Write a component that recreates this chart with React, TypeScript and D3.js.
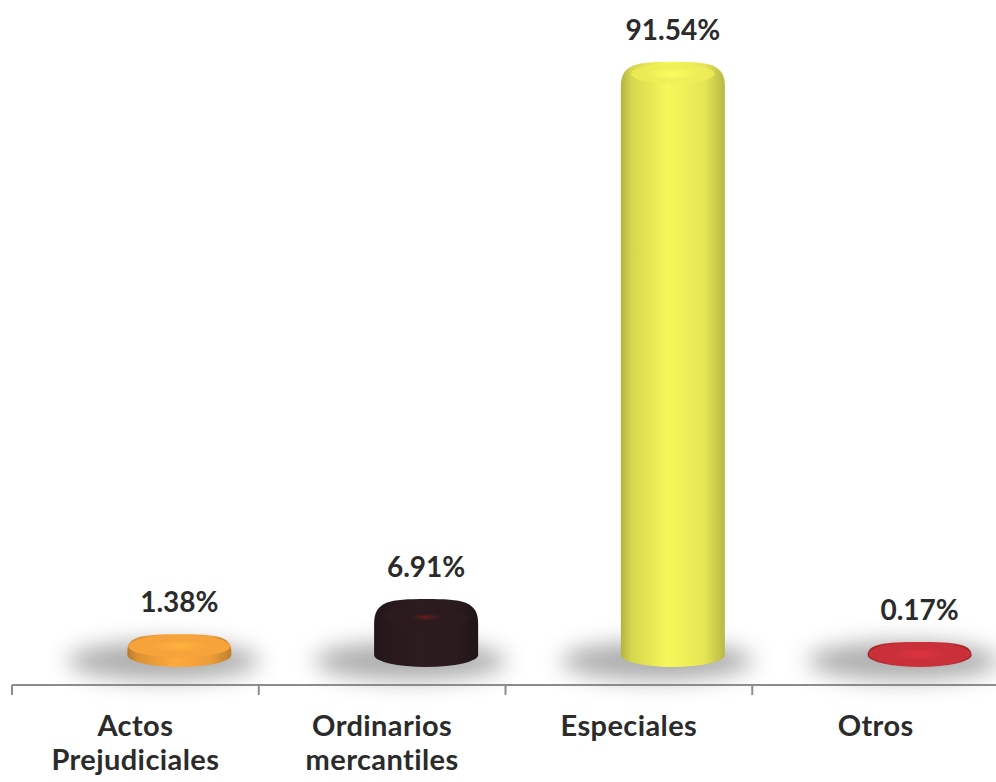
import * as d3 from 'd3';
import React from 'react';

const categories: string[] = ['Actos Prejudiciales', 'Ordinarios mercantiles', 'Especiales', 'Otros'];
const values: number[] = [1.38, 6.91, 91.54, 0.17];
const colors: string[] = ['#F5A33A', '#2B1B1E', '#EEEE58', '#C9303A'];

const App = (): React.ReactElement => {
    const width = 996;
    const height = 782;
    const chartRef = React.useRef<SVGSVGElement>(null);

    React.useEffect(() => {
        const svg = d3.select(chartRef.current);
        svg.selectAll('*').remove();
        svg.attr('width', width).attr('height', height);

        const axisY = 685;
        const baseC = 655; // center of the bar's bottom ellipse
        const depthShift = 44; // 3D offset of the bars to the right of the band center
        const rx = 52;
        const ry = 12;

        const xScale = d3.scaleBand<string>().domain(categories).range([12, 999]).padding(0);
        const yScale = d3.scaleLinear().domain([0, 100]).range([baseC, 20]);

        const defs = svg.append('defs');

        // Blur for the shadows.
        defs.append('filter')
            .attr('id', 'blur')
            .attr('x', '-50%')
            .attr('y', '-100%')
            .attr('width', '200%')
            .attr('height', '300%')
            .append('feGaussianBlur')
            .attr('stdDeviation', 11);

        // Side shading and top face gradients per bar.
        colors.forEach((c, i) => {
            const base = d3.color(c) as d3.RGBColor;
            const g = defs.append('linearGradient').attr('id', 'side' + i).attr('x1', 0).attr('x2', 1).attr('y1', 0).attr('y2', 0);
            g.append('stop').attr('offset', 0).attr('stop-color', base.darker(0.8).formatHex());
            g.append('stop').attr('offset', 0.1).attr('stop-color', base.darker(0.3).formatHex());
            g.append('stop').attr('offset', 0.45).attr('stop-color', base.brighter(0.1).formatHex());
            g.append('stop').attr('offset', 0.8).attr('stop-color', base.darker(0.1).formatHex());
            g.append('stop').attr('offset', 1).attr('stop-color', base.darker(0.7).formatHex());

            const f = defs.append('radialGradient').attr('id', 'face' + i);
            f.append('stop').attr('offset', 0).attr('stop-color', i === 1 ? '#7a1c1c' : base.brighter(0.25).formatHex());
            f.append('stop').attr('offset', i === 1 ? 0.35 : 0.6).attr('stop-color', c);
            f.append('stop').attr('offset', 1).attr('stop-color', c);
        });

        // Axis line and ticks.
        svg.append('line')
            .attr('x1', 12)
            .attr('x2', width)
            .attr('y1', axisY)
            .attr('y2', axisY)
            .attr('stroke', '#8c8c8c')
            .attr('stroke-width', 2);
        const tickXs = categories.map((c) => xScale(c) as number).concat([999]);
        svg.selectAll('line.tick')
            .data(tickXs)
            .enter()
            .append('line')
            .attr('class', 'tick')
            .attr('x1', (d) => d)
            .attr('x2', (d) => d)
            .attr('y1', axisY)
            .attr('y2', axisY + 10)
            .attr('stroke', '#8c8c8c')
            .attr('stroke-width', 2);

        const bars = svg.selectAll('g.bar')
            .data(values)
            .enter()
            .append('g')
            .attr('class', 'bar');

        const cxOf = (i: number) => (xScale(categories[i]) as number) + xScale.bandwidth() / 2 + depthShift;

        // Shadows.
        bars.append('ellipse')
            .attr('cx', (_d, i) => cxOf(i) - 16)
            .attr('cy', baseC + 6)
            .attr('rx', 96)
            .attr('ry', 19)
            .attr('fill', '#8a8a8a')
            .attr('opacity', 0.7)
            .attr('filter', 'url(#blur)');

        // Bar bodies (cylinder with rounded top).
        bars.append('path')
            .attr('fill', (_d, i) => 'url(#side' + i + ')')
            .attr('d', (d, i) => {
                const cx = cxOf(i);
                const x0 = cx - rx;
                const x1 = cx + rx;
                const topC = yScale(d);
                const topEdge = topC - ry;
                const b = Math.min(28, baseC - topC + 2);
                return (
                    `M${x0},${baseC} L${x0},${topC + b * 0.45} ` +
                    `C${x0},${topEdge + 2} ${x0 + rx * 0.3},${topEdge} ${cx},${topEdge} ` +
                    `C${x1 - rx * 0.3},${topEdge} ${x1},${topEdge + 2} ${x1},${topC + b * 0.45} ` +
                    `L${x1},${baseC} A${rx},${ry} 0 0 1 ${x0},${baseC} Z`
                );
            });

        // Top faces.
        bars.append('ellipse')
            .attr('cx', (_d, i) => cxOf(i))
            .attr('cy', (d, i) => yScale(d) + (i === 1 ? 6 : 0))
            .attr('rx', (d) => (baseC - yScale(d) < 12 ? rx - 1 : rx - 10))
            .attr('ry', (d) => (baseC - yScale(d) < 12 ? ry - 0.5 : ry - 2))
            .attr('fill', (_d, i) => 'url(#face' + i + ')')
            .attr('opacity', (d) => (baseC - yScale(d) < 12 ? 1 : 0.8));

        // Value labels.
        svg.selectAll('text.value')
            .data(values)
            .enter()
            .append('text')
            .attr('class', 'value')
            .attr('x', (_d, i) => cxOf(i))
            .attr('y', (d) => yScale(d) - ry - 22)
            .attr('text-anchor', 'middle')
            .attr('font-family', 'Lato, sans-serif')
            .attr('font-weight', 'bold')
            .attr('font-size', 28)
            .attr('fill', '#2b2b2b')
            .text((d) => d.toFixed(2) + '%');

        // Category labels.
        const labels = svg.selectAll('text.cat')
            .data(categories)
            .enter()
            .append('text')
            .attr('class', 'cat')
            .attr('x', (d) => (xScale(d) as number) + xScale.bandwidth() / 2)
            .attr('y', 736)
            .attr('text-anchor', 'middle')
            .attr('font-family', 'Lato, sans-serif')
            .attr('font-weight', 'bold')
            .attr('font-size', 29)
            .attr('letter-spacing', 0.4)
            .attr('fill', '#2b2b2b');
        labels.each(function (d) {
            const el = d3.select(this);
            d.split(' ').forEach((word, k) => {
                el.append('tspan')
                    .attr('x', (xScale(d) as number) + xScale.bandwidth() / 2)
                    .attr('dy', k === 0 ? 0 : 34)
                    .text(word);
            });
        });
    }, []);

    return (
        <div>
            <svg ref={chartRef} style={{ position: 'absolute', left: 0, top: 0, background: '#ffffff' }}></svg>
        </div>
    );
};

export default App;
